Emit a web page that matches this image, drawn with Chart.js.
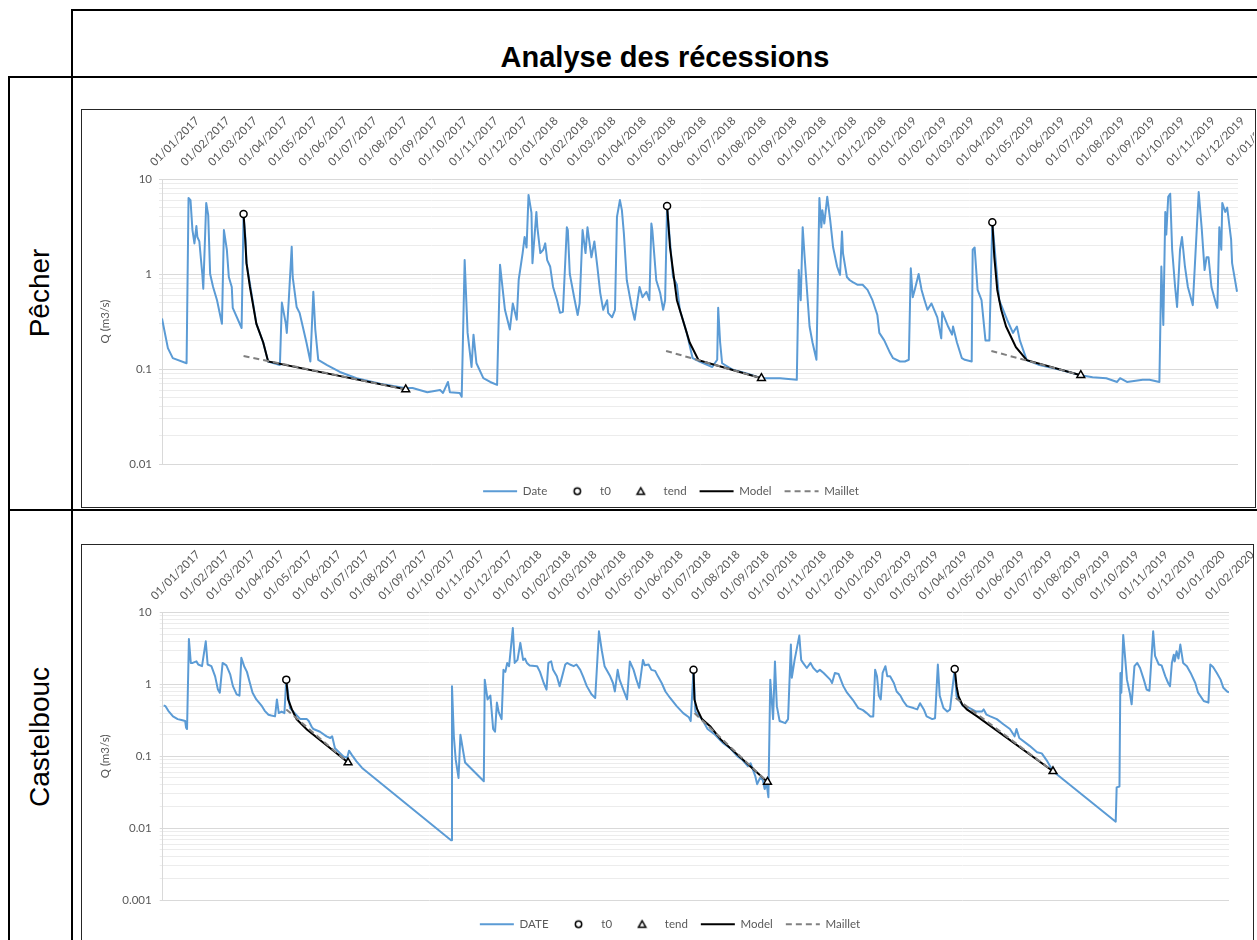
<!DOCTYPE html>
<html><head><meta charset="utf-8">
<script src="https://cdn.jsdelivr.net/npm/chart.js@4/dist/chart.umd.min.js"></script>
<style>
html,body{margin:0;padding:0;background:#fff;}
body{width:1257px;height:940px;position:relative;overflow:hidden;font-family:"Liberation Sans",Arial,sans-serif;color:#000;}
.l{position:absolute;background:#000;}
.box{position:absolute;border:1px solid #262626;box-sizing:border-box;background:#fff;}
canvas{position:absolute;}
.title{position:absolute;left:73px;width:1184px;top:41px;text-align:center;font-weight:bold;font-size:29px;line-height:32px;white-space:nowrap;}
.rot{position:absolute;font-size:28px;line-height:32px;transform:translate(-50%,-50%) rotate(-90deg);white-space:nowrap;}
</style></head>
<body>
<div class="box" style="left:81px;top:109px;width:1175px;height:399px;"></div>
<div class="box" style="left:81px;top:544px;width:1173px;height:420px;"></div>
<canvas id="c1" width="1172" height="397" style="left:82px;top:110px;"></canvas>
<canvas id="c2" width="1171" height="395" style="left:82px;top:545px;"></canvas>
<div class="l" style="left:71px;top:9px;width:1186px;height:2px;"></div>
<div class="l" style="left:71px;top:9px;width:2px;height:931px;"></div>
<div class="l" style="left:8px;top:76px;width:1249px;height:2px;"></div>
<div class="l" style="left:8px;top:76px;width:2px;height:864px;"></div>
<div class="l" style="left:8px;top:509px;width:1249px;height:2px;"></div>
<div class="title">Analyse des récessions</div>
<div class="rot" style="left:40px;top:293px;">Pêcher</div>
<div class="rot" style="left:40px;top:737px;">Castelbouc</div>
<script>
// ---------- tick labels ----------
const pecherMonthLabels = ['01/01/2017','01/02/2017','01/03/2017','01/04/2017','01/05/2017','01/06/2017','01/07/2017','01/08/2017','01/09/2017','01/10/2017','01/11/2017','01/12/2017',
 '01/01/2018','01/02/2018','01/03/2018','01/04/2018','01/05/2018','01/06/2018','01/07/2018','01/08/2018','01/09/2018','01/10/2018','01/11/2018','01/12/2018',
 '01/01/2019','01/02/2019','01/03/2019','01/04/2019','01/05/2019','01/06/2019','01/07/2019','01/08/2019','01/09/2019','01/10/2019','01/11/2019','01/12/2019','01/01/2020'];
const castelMonthLabels = ['01/01/2017','01/02/2017','01/03/2017','01/04/2017','01/05/2017','01/06/2017','01/07/2017','01/08/2017','01/09/2017','01/10/2017','01/11/2017','01/12/2017',
 '01/01/2018','01/02/2018','01/03/2018','01/04/2018','01/05/2018','01/06/2018','01/07/2018','01/08/2018','01/09/2018','01/10/2018','01/11/2018','01/12/2018',
 '01/01/2019','01/02/2019','01/03/2019','01/04/2019','01/05/2019','01/06/2019','01/07/2019','01/08/2019','01/09/2019','01/10/2019','01/11/2019','01/12/2019','01/01/2020','01/02/2020'];
const pecherYLabels = ['0.01','0.1','1','10'];
const castelYLabels = ['0.001','0.01','0.1','1','10'];

// ---------- Pêcher (days since 01/01/2017, Q in m3/s) ----------
const pecherDays = [0,6,11,25,27,29,31,33,35,36,
38,41,42,45,47,49,52,56,61,63,
66,68,71,72,81,83,85,86,90,96,
103,108,120,122,126,127,129,132,133,137,
140,147,151,154,156,159,168,181,198,222,
247,255,270,283,286,291,293,303,305,308,
311,315,317,320,327,334,341,344,349,354,
357,361,363,367,369,371,373,376,377,381,
382,385,388,390,392,395,398,402,405,408,
412,413,415,420,423,425,428,431,433,437,
440,443,446,449,453,454,458,461,463,466,
468,470,473,478,481,483,486,489,493,496,
498,499,503,507,510,512,514,520,524,527,
534,540,547,560,565,566,568,570,581,595,
610,629,646,648,650,652,654,659,662,666,
669,671,672,674,677,680,683,687,690,692,
693,697,700,703,708,713,718,723,728,730,
735,741,744,751,756,760,762,764,766,770,
773,776,779,783,789,793,794,800,804,805,
809,814,817,824,825,827,830,834,838,842,
845,852,860,866,870,873,880,893,914,935,
947,961,972,975,982,998,1005,1015,1017,1019,
1021,1022,1024,1026,1028,1031,1033,1036,1038,1041,
1044,1049,1055,1058,1061,1063,1065,1068,1073,1074,
1076,1078,1079,1082,1084,1088,1089,1094];
const pecherQ = [0.34,0.166,0.13,0.115,6.3,6.0,2.9,2.1,3.2,2.45,
2.2,1.0,0.7,5.6,4.2,1.0,0.73,0.53,0.3,2.9,
1.8,0.93,0.73,0.44,0.27,4.27,2.3,1.3,0.73,0.3,
0.19,0.12,0.11,0.5,0.3,0.24,0.53,1.94,0.93,0.45,
0.39,0.19,0.12,0.65,0.26,0.125,0.11,0.093,0.08,0.07,
0.063,0.063,0.057,0.06,0.056,0.073,0.057,0.056,0.051,1.4,
0.24,0.105,0.23,0.115,0.08,0.073,0.068,1.25,0.42,0.26,
0.49,0.33,0.87,1.66,2.45,1.9,6.8,4.4,1.3,4.5,
3.1,1.66,1.8,2.1,1.4,1.2,0.73,0.53,0.39,0.4,
3.1,2.9,1.0,0.53,0.37,0.49,2.9,1.66,3.1,1.5,
2.2,1.2,0.63,0.42,0.53,0.39,0.35,0.42,4.0,6.0,
4.7,2.7,0.86,0.45,0.33,0.45,0.73,0.57,0.65,0.53,
3.4,2.9,0.86,0.63,0.42,0.53,5.2,0.93,0.77,0.42,
0.24,0.13,0.12,0.105,0.125,0.44,0.19,0.115,0.098,0.09,
0.08,0.08,0.077,1.1,0.53,3.1,1.5,0.28,0.19,0.125,
6.3,3.1,4.7,3.4,6.5,3.7,1.9,1.2,0.98,2.8,
1.66,0.93,0.86,0.82,0.77,0.77,0.68,0.53,0.37,0.24,
0.2,0.147,0.13,0.12,0.12,0.125,1.15,0.57,0.68,1.0,
0.68,0.53,0.42,0.49,0.35,0.21,0.4,0.28,0.23,0.28,
0.19,0.13,0.125,0.12,1.8,1.9,0.68,0.53,0.2,0.2,
3.5,0.53,0.33,0.24,0.28,0.2,0.124,0.11,0.098,0.086,
0.082,0.08,0.073,0.08,0.073,0.077,0.077,0.073,1.2,0.29,
4.5,2.6,6.5,7.0,1.8,0.73,0.45,1.8,2.45,1.2,
0.73,0.47,7.3,3.1,1.1,1.5,1.5,0.73,0.47,0.44,
3.1,1.8,5.6,4.5,5.0,2.3,1.3,0.65];
const pecherT0Days = [83,514,845];
const pecherT0Q = [4.27,5.2,3.5];
const pecherTendDays = [248,610,935];
const pecherTendQ = [0.061,0.08,0.086];
const pecherModelDays = [[83,84.7,86,89.5,96,103,108,248],[514,517,520,524,530,537,546,610],[845,847,850,854,859,869,880,935]];
const pecherModelQ = [[4.27,2.3,1.3,0.73,0.3,0.19,0.12,0.061],[5.2,1.9,1.1,0.53,0.33,0.19,0.124,0.08],[3.5,1.51,0.68,0.42,0.28,0.17,0.124,0.086]];
const pecherMailletDays = [[83,248],[513,610],[844,935]];
const pecherMailletQ = [[0.137,0.061],[0.155,0.08],[0.155,0.086]];

// ---------- Castelbouc ----------
const castelDays = [1,3,6,11,16,20,24,25,26,28,
30,32,36,38,42,46,48,52,56,59,
61,64,68,72,75,79,82,84,87,90,
93,96,100,106,109,113,116,120,122,124,
127,130,132,136,147,154,156,159,161,168,
175,179,181,184,193,197,199,202,207,213,
308,309,311,313,316,318,323,343,344,347,
350,353,355,357,359,362,364,366,368,370,
374,376,379,382,385,387,389,392,400,403,
407,410,412,415,417,421,424,430,432,435,
439,442,446,449,453,458,462,466,469,472,
478,481,483,486,488,492,496,499,503,506,
509,513,515,519,522,526,529,533,537,542,
549,556,562,564,567,569,576,582,590,598,
606,614,619,625,628,633,635,638,641,643,
645,647,649,652,654,656,659,665,668,671,
672,675,680,682,684,688,692,695,699,702,
706,713,715,718,722,727,731,738,743,748,
752,756,759,761,763,765,767,769,772,774,
777,781,784,788,791,795,802,806,809,813,
816,822,825,828,830,834,838,841,846,848,
855,862,869,875,877,880,884,891,898,905,
910,912,915,926,934,939,945,951,1018,1019,
1022,1023,1024,1026,1030,1033,1035,1038,1041,1044,
1048,1051,1054,1058,1060,1064,1067,1071,1074,1076,
1078,1080,1081,1083,1085,1087,1090,1094,1098,1103,
1106,1112,1117,1119,1122,1126,1130,1133,1137,1139];
const castelQ = [0.51,0.5,0.43,0.36,0.33,0.32,0.31,0.25,0.24,4.3,
2.0,2.0,2.1,1.9,1.8,4.0,1.9,1.8,1.3,0.85,
0.77,2.0,1.85,1.4,0.95,0.73,0.7,2.35,1.8,1.5,
1.07,0.77,0.62,0.5,0.43,0.38,0.37,0.36,0.62,0.4,
0.42,0.4,1.17,0.47,0.33,0.33,0.31,0.26,0.24,0.22,
0.19,0.18,0.19,0.13,0.1,0.095,0.12,0.105,0.085,0.069,
0.0068,0.95,0.19,0.09,0.05,0.2,0.082,0.045,1.17,0.62,
0.7,0.24,0.22,0.56,0.41,0.33,1.6,1.5,2.0,1.8,
6.1,2.0,2.2,3.8,2.2,2.3,2.0,1.84,1.8,1.5,
1.05,0.85,2.0,2.1,1.6,1.3,0.95,1.9,2.0,1.9,
1.8,1.9,1.6,1.3,0.95,0.73,0.65,5.5,3.0,1.8,
1.3,1.05,0.8,1.6,1.17,0.85,0.62,2.1,1.6,1.17,
0.9,2.2,1.85,1.9,1.6,1.55,1.3,1.05,0.8,0.65,
0.5,0.4,0.35,0.31,1.6,0.42,0.33,0.24,0.2,0.155,
0.13,0.1,0.09,0.073,0.08,0.053,0.041,0.05,0.047,0.035,
0.042,0.027,1.17,0.33,2.1,0.5,0.31,0.29,0.33,3.6,
1.24,2.2,4.8,2.2,2.0,1.7,2.0,1.7,1.5,1.6,
1.45,1.17,1.05,1.45,1.4,0.95,0.77,0.59,0.47,0.44,
0.4,0.36,0.36,1.6,1.3,0.7,0.62,1.45,1.8,1.3,
1.3,1.05,0.8,0.7,0.59,0.5,0.47,0.45,0.55,0.45,
0.36,0.33,0.34,1.9,0.7,0.47,0.42,0.45,1.65,0.69,
0.5,0.47,0.42,0.42,0.45,0.38,0.36,0.33,0.28,0.24,
0.19,0.24,0.18,0.14,0.114,0.11,0.085,0.062,0.0123,0.037,
0.038,1.45,0.77,4.9,1.17,0.77,0.53,1.8,2.0,1.7,
1.17,0.85,0.82,5.5,2.5,1.9,1.85,1.3,1.05,0.95,
2.0,2.6,2.1,2.9,2.3,3.6,2.0,1.8,1.45,1.05,
0.77,0.59,0.56,1.9,1.75,1.45,1.17,0.9,0.8,0.78];
const castelT0Days = [132,567,846];
const castelT0Q = [1.17,1.6,1.65];
const castelTendDays = [198,646,951];
const castelTendQ = [0.082,0.044,0.062];
const castelModelDays = [[132,134,138,143,154,198],[567,568,571,576,585,596,646],[846,848,850,854,859,870,951]];
const castelModelQ = [[1.17,0.62,0.45,0.33,0.237,0.082],[1.6,0.62,0.45,0.33,0.26,0.172,0.044],[1.65,0.95,0.69,0.53,0.45,0.36,0.062]];
const castelMailletDays = [[132,198],[568,646],[847,951]];
const castelMailletQ = [[0.45,0.082],[0.4,0.044],[0.65,0.062]];

// ---------- helpers ----------
const GRAY_TXT = '#595959';
const FONT = {family: 'Lato, "Open Sans", sans-serif', size: 11.5};
function dayOf(label) {
  const p = label.split('/').map(Number);
  return (Date.UTC(p[2], p[1] - 1, p[0]) - Date.UTC(2017, 0, 1)) / 864e5;
}
function pts(days, q) { return days.map((d, i) => ({x: d, y: q[i]})); }
function segPts(daySegs, qSegs) {
  const out = [];
  daySegs.forEach((seg, k) => {
    if (k > 0) out.push({x: (daySegs[k - 1][daySegs[k - 1].length - 1] + seg[0]) / 2, y: null});
    seg.forEach((d, i) => out.push({x: d, y: qSegs[k][i]}));
  });
  return out;
}
function symbolImg(kind) {
  const c = document.createElement('canvas');
  c.width = 11; c.height = 11;
  const g = c.getContext('2d');
  g.beginPath();
  if (kind === 'circle') {
    g.arc(5.5, 5.5, 3.2, 0, Math.PI * 2);
  } else {
    g.moveTo(5.5, 2); g.lineTo(9.2, 8.6); g.lineTo(1.8, 8.6); g.closePath();
  }
  g.fillStyle = '#fff'; g.fill();
  g.lineWidth = 1.5; g.strokeStyle = '#000'; g.stroke();
  return c;
}
const CIRCLE = symbolImg('circle');
const TRIANGLE = symbolImg('triangle');

function makeChart(id, o) {
  const tickDays = o.monthLabels.map(dayOf);
  const majors = o.yLabels.map(Number);
  const majorIdx = v => majors.findIndex(m => Math.abs(v / m - 1) < 1e-6);
  return new Chart(document.getElementById(id), {
    type: 'line',
    data: {
      datasets: [
        {label: o.seriesLabel, kind: 'line', data: pts(o.days, o.q), borderColor: '#5B9BD5', backgroundColor: '#5B9BD5',
         borderWidth: 2, pointRadius: 0, tension: 0, borderJoinStyle: 'round', order: 5, xAxisID: 'x', yAxisID: 'y'},
        {label: 't0', kind: 'circle', data: pts(o.t0Days, o.t0Q), showLine: false, pointStyle: 'circle', pointRadius: 3.5,
         pointBackgroundColor: '#fff', pointBorderColor: '#000', pointBorderWidth: 1.5, order: 1, xAxisID: 'x', yAxisID: 'y'},
        {label: 'tend', kind: 'triangle', data: pts(o.tendDays, o.tendQ), showLine: false, pointStyle: 'triangle', pointRadius: 4.5,
         pointBackgroundColor: '#fff', pointBorderColor: '#000', pointBorderWidth: 1.5, order: 2, xAxisID: 'x', yAxisID: 'y'},
        {label: 'Model', kind: 'line', data: segPts(o.modelDays, o.modelQ), borderColor: '#000', backgroundColor: '#000',
         borderWidth: 2, pointRadius: 0, spanGaps: false, order: 4, xAxisID: 'x', yAxisID: 'y'},
        {label: 'Maillet', kind: 'line', data: segPts(o.mailletDays, o.mailletQ), borderColor: '#808080', backgroundColor: '#808080',
         borderWidth: 2, borderDash: [6, 4], pointRadius: 0, spanGaps: false, order: 3, xAxisID: 'x', yAxisID: 'y'}
      ]
    },
    options: {
      responsive: false, animation: false, devicePixelRatio: 1,
      layout: {padding: {left: o.padLeft, right: o.padRight, top: 0, bottom: 0}},
      plugins: {
        tooltip: {enabled: false},
        legend: {
          display: true, position: 'bottom',
          labels: {
            usePointStyle: true, pointStyleWidth: 34, boxHeight: 6, padding: 13, color: GRAY_TXT, font: FONT,
            generateLabels: chart => chart.data.datasets.map((ds, i) => {
              const base = {text: ds.label, datasetIndex: i, hidden: false, fontColor: GRAY_TXT, lineCap: 'butt', lineJoin: 'miter', lineDashOffset: 0};
              if (ds.kind === 'circle') return Object.assign(base, {pointStyle: CIRCLE, fillStyle: '#fff', strokeStyle: '#000', lineWidth: 1.5, lineDash: []});
              if (ds.kind === 'triangle') return Object.assign(base, {pointStyle: TRIANGLE, fillStyle: '#fff', strokeStyle: '#000', lineWidth: 1.5, lineDash: []});
              return Object.assign(base, {pointStyle: 'line', fillStyle: ds.borderColor, strokeStyle: ds.borderColor, lineWidth: 2, lineDash: ds.borderDash || []});
            })
          }
        }
      },
      scales: {
        x: {
          type: 'linear', position: 'top', min: 0, max: o.xMax,
          grid: {display: false, drawTicks: false, tickLength: 0}, border: {display: false},
          afterBuildTicks: s => { s.ticks = tickDays.map(v => ({value: v})); },
          ticks: {autoSkip: false, minRotation: 45, maxRotation: 45, padding: 10, color: GRAY_TXT, font: FONT,
                  callback: v => { const i = tickDays.indexOf(v); return i >= 0 ? o.monthLabels[i] : ''; }},
          afterFit: s => { s.height = o.xAxisH; s.paddingLeft = 0; s.paddingRight = 0; }
        },
        sp: {
          type: 'linear', position: 'bottom', display: true,
          grid: {display: false, drawTicks: false}, border: {display: false}, ticks: {display: false},
          afterFit: s => { s.height = o.spacer; s.paddingLeft = 0; s.paddingRight = 0; }
        },
        y: {
          type: 'logarithmic', position: 'left', min: majors[0], max: majors[majors.length - 1],
          afterBuildTicks: s => {
            const t = [];
            majors.forEach((m, k) => {
              t.push({value: m, major: true});
              if (k < majors.length - 1) for (let j = 2; j <= 9; j++) t.push({value: m * j, major: false});
            });
            s.ticks = t;
          },
          ticks: {autoSkip: false, padding: o.yTickPad, color: GRAY_TXT, font: FONT,
                  callback: v => { const i = majorIdx(v); return i >= 0 ? o.yLabels[i] : ''; }},
          grid: {color: c => (c.tick && majorIdx(c.tick.value) >= 0) ? '#d9d9d9' : '#ececec', lineWidth: 1, tickLength: 3, drawTicks: true},
          border: {display: true, color: '#d9d9d9'},
          title: {display: true, text: 'Q (m3/s)', color: GRAY_TXT, font: FONT, padding: {top: o.titlePad, bottom: 0}},
          afterFit: s => { s.width = o.yAxisW; s.paddingTop = 0; s.paddingBottom = 0; }
        }
      }
    }
  });
}

makeChart('c1', {
  seriesLabel: 'Date', monthLabels: pecherMonthLabels, yLabels: pecherYLabels, xMax: 1095,
  days: pecherDays, q: pecherQ, t0Days: pecherT0Days, t0Q: pecherT0Q, tendDays: pecherTendDays, tendQ: pecherTendQ,
  modelDays: pecherModelDays, modelQ: pecherModelQ, mailletDays: pecherMailletDays, mailletQ: pecherMailletQ,
  padLeft: 22, padRight: 16, yAxisW: 58, xAxisH: 69, spacer: 8.5, yTickPad: 7, titlePad: -6
});
makeChart('c2', {
  seriesLabel: 'DATE', monthLabels: castelMonthLabels, yLabels: castelYLabels, xMax: 1139,
  days: castelDays, q: castelQ, t0Days: castelT0Days, t0Q: castelT0Q, tendDays: castelTendDays, tendQ: castelTendQ,
  modelDays: castelModelDays, modelQ: castelModelQ, mailletDays: castelMailletDays, mailletQ: castelMailletQ,
  padLeft: 29, padRight: 24, yAxisW: 51.7, xAxisH: 67.7, spacer: 5.5, yTickPad: 8, titlePad: -13
});
</script>
</body></html>
